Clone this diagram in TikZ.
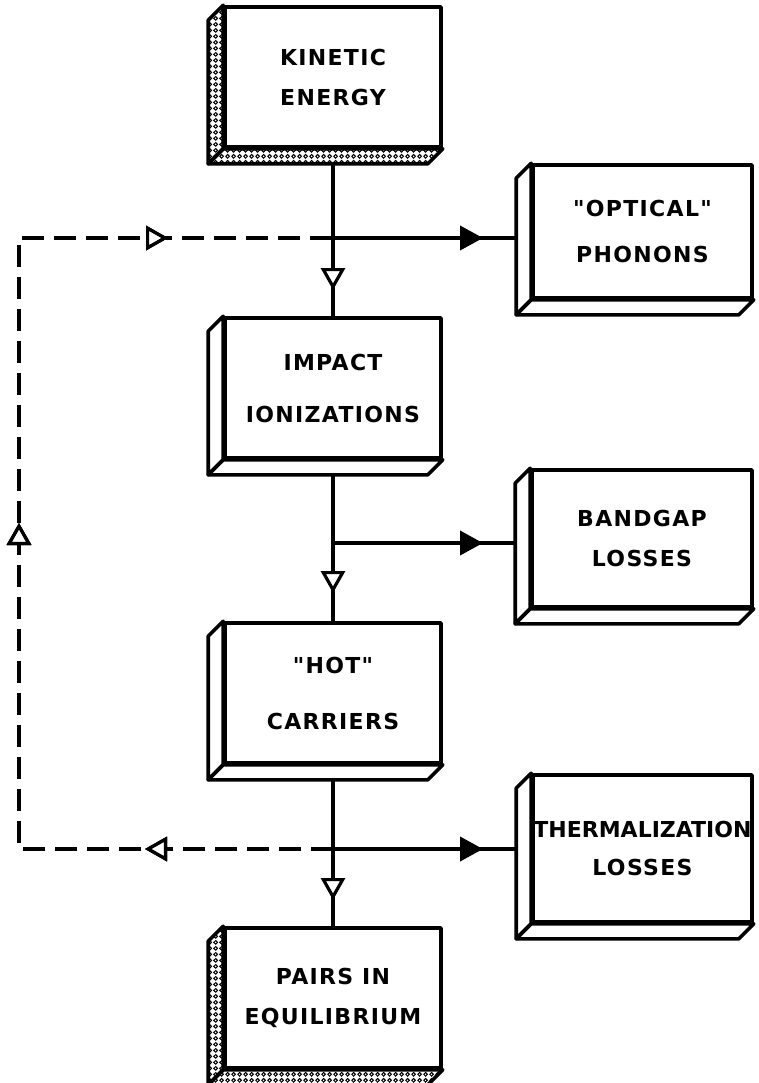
\documentclass[tikz,border=0pt]{standalone}
\usepackage{fontspec}
\newfontfamily\letterfont[LetterSpace=6]{DejaVu Sans}
\usetikzlibrary{arrows.meta,patterns,decorations.markings}

% small rings for the shaded faces
\pgfdeclarepatternformonly{rings}{\pgfpointorigin}{\pgfpoint{2.8pt}{2.8pt}}{\pgfpoint{2.8pt}{2.8pt}}{%
  \pgfsetlinewidth{0.55pt}\pgfpathcircle{\pgfpoint{1.4pt}{1.4pt}}{0.95pt}\pgfusepath{stroke}}

% extruded faces of a box, to the lower left of its front
\newcommand\slabfaces[2]{%
  \draw[#2] (#1.north west) -- ++(-15,15) -- ([shift={(-15,15)}]#1.south west) -- (#1.south west) -- cycle;
  \draw[#2] (#1.south west) -- ++(-15,15) -- ([shift={(-15,15)}]#1.south east) -- (#1.south east) -- cycle;}

\tikzset{
  slab/.style={draw, line width=1.8pt, line join=round, fill=white, inner sep=0pt,
    minimum width=108pt, minimum height=70pt, align=center,
    font=\letterfont\bfseries\fontsize{11}{20}\selectfont},
  face/.style={draw, line width=1.8pt, line join=round, fill=white},
  dotface/.style={face, pattern=rings},
  link/.style={line width=1.6pt},
  feed/.style={line width=2pt, dash pattern=on 11pt off 5pt},
  opentip/.style={postaction={decorate}, decoration={markings,
    mark=at position #1 with {\arrow{Triangle[fill=white, line width=1.6pt, length=11pt, width=12pt]}}}},
  fulltip/.style={postaction={decorate}, decoration={markings,
    mark=at position #1 with {\arrow{Triangle[length=11.5pt, width=12pt]}}}},
}

\begin{document}
\begin{tikzpicture}[x=0.5pt,y=-0.5pt]
\useasboundingbox (0,0) rectangle (759,1083);

% main chain
\node[slab, minimum height=70pt] (kin) at (333,77) {KINETIC\\ENERGY};
\node[slab] (imp) at (333,388) {IMPACT\\[6pt]IONIZATIONS};
\node[slab] (hot) at (333,693) {"HOT"\\[8pt]CARRIERS};
\node[slab] (pairs) at (333,998) {PAIRS IN\\EQUILIBRIUM};

% losses
\node[slab, minimum width=109.5pt, minimum height=66.5pt] (opt) at (642.5,231.5) {"OPTICAL"\\[3pt]PHONONS};
\node[slab, minimum width=110pt, minimum height=68.5pt] (band) at (642,538.5) {BANDGAP\\LOSSES};
\node[slab, minimum width=109.5pt, minimum height=73.5pt] (therm) at (642.5,848.5)
  {{\addfontfeature{LetterSpace=0}THERMALIZATION}\\[-1pt]LOSSES};

\slabfaces{kin}{dotface}
\slabfaces{imp}{face}
\slabfaces{hot}{face}
\slabfaces{pairs}{dotface}
\slabfaces{opt}{face}
\slabfaces{band}{face}
\slabfaces{therm}{face}

\coordinate (j1) at (333,238);
\coordinate (j2) at (333,543);
\coordinate (j3) at (333,849);
\coordinate (c1) at (19,238);
\coordinate (c2) at (19,849);
\coordinate (optside) at ([xshift=-7.5pt]opt.west);
\coordinate (bandside) at ([xshift=-7.5pt]band.west);
\coordinate (thermside) at ([xshift=-7.5pt]therm.west);

\draw[link] ([yshift=-7.5pt]kin.south) -- (j1);
\draw[link, opentip=26pt] (j1) -- (imp.north);
\draw[link] ([yshift=-7.5pt]imp.south) -- (j2);
\draw[link, opentip=25pt] (j2) -- (hot.north);
\draw[link] ([yshift=-7.5pt]hot.south) -- (j3);
\draw[link, opentip=25.5pt] (j3) -- (pairs.north);

\draw[link, line width=2pt, fulltip=75pt] (j1) -- (j1 -| optside);
\draw[link, line width=2pt, fulltip=75pt] (j2) -- (j2 -| bandside);
\draw[link, line width=2pt, fulltip=75pt] (j3) -- (j3 -| thermside);

% feedback loop
\draw[feed, opentip=94pt, opentip=320pt, opentip=537pt] (j3) -- (c2) -- (c1) -- (j1);
\end{tikzpicture}
\end{document}
